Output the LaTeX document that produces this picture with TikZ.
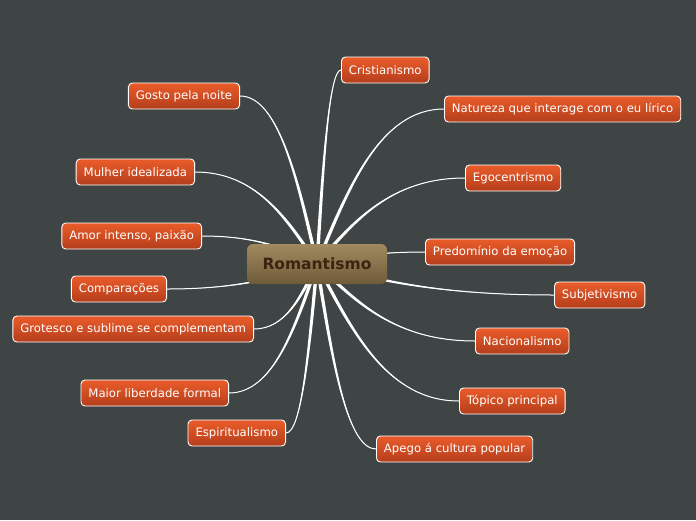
\documentclass[tikz,border=0pt]{standalone}
\usepackage{fontspec}
\setmainfont{DejaVu Sans}
\usetikzlibrary{calc,backgrounds}
% tapered white branch from the central topic to one anchor
\newcommand{\mmbranch}[1]{%
  \coordinate (p) at ($(root.center)!.25!(#1)$);
  \coordinate (m) at ($(root.center)!.5!(#1)$);
  \coordinate (c) at (p|-m);
  \fill[white] ($(root.center)!1.7pt!90:(c)$) .. controls ($(c)!1.7pt!-90:(root.center)$)
    and (m|-#1) .. (#1) .. controls (m|-#1) and ($(c)!1.7pt!90:(root.center)$)
    .. ($(root.center)!1.7pt!-90:(c)$) -- cycle;
  \draw[link] (root.center) .. controls (c) and (m|-#1) .. (#1);}

\begin{document}
\begin{tikzpicture}[x=1pt,y=1pt,
  leaf/.style={draw=white,line width=0.9pt,rounded corners=4pt,
    top color=cleaftop,bottom color=cleafbot,text=white,
    minimum height=26pt,inner xsep=7.5pt,inner ysep=0pt,
    font=\fontsize{11.7}{13}\selectfont},
  hub/.style={rounded corners=6pt,top color=chubtop,bottom color=chubbot,
    text=chubtxt,minimum width=140pt,minimum height=40pt,
    font=\fontsize{15.5}{18}\selectfont\bfseries},
  link/.style={white,line width=1pt,line cap=round}]
\definecolor{cbg}{RGB}{63,69,69}
\definecolor{cleaftop}{RGB}{234,92,42}
\definecolor{cleafbot}{RGB}{180,62,28}
\definecolor{chubtop}{RGB}{160,138,94}
\definecolor{chubbot}{RGB}{110,91,58}
\definecolor{chubtxt}{RGB}{58,36,16}
\useasboundingbox (0,0) rectangle (696,-520);
% central topic
\node[hub] (root) at (317,-264) {Romantismo};
% right-hand branches
\node[leaf,anchor=west] (cri) at (341,-70)  {Cristianismo};
\node[leaf,anchor=west] (nat) at (444,-109) {Natureza que interage com o eu lírico};
\node[leaf,anchor=west] (ego) at (465,-178) {Egocentrismo};
\node[leaf,anchor=west] (pre) at (425,-252) {Predomínio da emoção};
\node[leaf,anchor=west] (sub) at (554,-295) {Subjetivismo};
\node[leaf,anchor=west] (nac) at (475,-341) {Nacionalismo};
\node[leaf,anchor=west] (top) at (459,-401) {Tópico principal};
\node[leaf,anchor=west] (ape) at (376,-449) {Apego á cultura popular};
% left-hand branches
\node[leaf,anchor=east] (gos) at (240,-96)  {Gosto pela noite};
\node[leaf,anchor=east] (mul) at (195,-172) {Mulher idealizada};
\node[leaf,anchor=east] (amo) at (202,-236) {Amor intenso, paixão};
\node[leaf,anchor=east] (com) at (167,-289) {Comparações};
\node[leaf,anchor=east] (gro) at (254,-329) {Grotesco e sublime se complementam};
\node[leaf,anchor=east] (mai) at (229,-393) {Maior liberdade formal};
\node[leaf,anchor=east] (esp) at (286,-433) {Espiritualismo};
% canvas and connectors behind the nodes
\begin{pgfonlayer}{background}
\fill[cbg] (0,0) rectangle (696,-520);
\foreach \leafname in {cri,nat,ego,pre,sub,nac,top,ape}
  {\mmbranch{\leafname.west}}
\foreach \leafname in {gos,mul,amo,com,gro,mai,esp}
  {\mmbranch{\leafname.east}}
\end{pgfonlayer}
\end{tikzpicture}
\end{document}
